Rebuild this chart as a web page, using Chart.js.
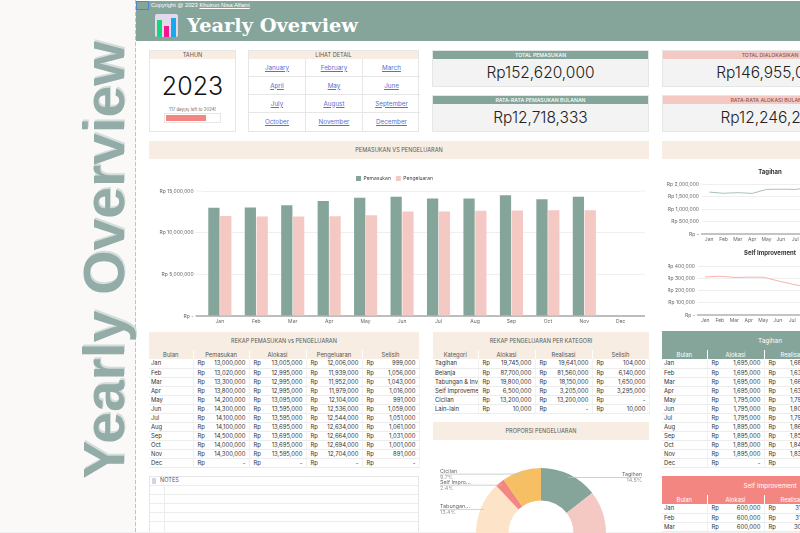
<!DOCTYPE html>
<html><head><meta charset="utf-8">
<script src="https://cdn.jsdelivr.net/npm/chart.js@4/dist/chart.umd.min.js"></script>
<style>
html,body{margin:0;padding:0;width:800px;height:533px;overflow:hidden;background:#fff;font-family:Inter,sans-serif;color:#333}
#page{position:absolute;left:0;top:0;width:800px;height:533px;overflow:hidden}
.a{position:absolute;box-sizing:border-box}
.c{display:flex;align-items:center;justify-content:center;white-space:nowrap;overflow:visible}
.box{border:1px solid #e6e6e6;background:#fff}
.band{background:#f7ede3;color:#555;font-size:5.6px;font-weight:400}
table{position:absolute;border-collapse:collapse;table-layout:fixed;font-size:5.9px;color:#333}
td,th{height:9px;padding:0;box-sizing:border-box;overflow:hidden;white-space:nowrap;font-weight:400;line-height:8px}
td{border-bottom:1px solid #ececec;border-right:1px solid #f1f1f1;text-align:right;padding-right:3px}
td.l{text-align:left;padding:0 0 0 2px}
td .rp{float:left;padding-left:4px}
th{text-align:center;font-size:5.8px}
canvas{position:absolute;display:block}
a{color:#5a6fd0;text-decoration:underline}
</style></head><body>
<div id="page"></div>
<script>
const months=['Jan','Feb','Mar','Apr','May','Jun','Jul','Aug','Sep','Oct','Nov','Dec'];
const monthLinks=['January','February','March','April','May','June','July','August','September','October','November','December'];
const pemasukan=[13000000,13020000,13300000,13800000,14200000,14300000,14100000,14100000,14500000,14000000,14300000,0];
const alokasi=[13005000,12995000,12995000,12995000,13095000,13595000,13595000,13695000,13695000,13695000,13595000,0];
const pengeluaran=[12006000,11939000,11952000,11979000,12104000,12536000,12544000,12634000,12664000,12694000,12704000,0];
const selisih=[999000,1056000,1043000,1016000,991000,1059000,1051000,1061000,1031000,1001000,891000,0];
const kategori=['Tagihan','Belanja','Tabungan & Investasi','Self Improvement','Cicilan','Lain-lain'];
const katAlokasi=[19745000,87700000,19800000,6500000,13200000,10000];
const katRealisasi=[19641000,81560000,18150000,3205000,13200000,0];
const katSelisih=[104000,6140000,1650000,3295000,0,10000];
const pieLabels=['Tagihan','Belanja','Tabungan...','Self Impro...','Cicilan','Lain-lain'];
const tagihanAlokasi=[1695000,1695000,1695000,1695000,1795000,1795000,1795000,1895000,1895000,1895000,1895000,0];
const tagihanRealisasi=[1684000,1635000,1660000,1630000,1790000,1800000,1790000,1860000,1850000,1840000,1830000,0];
const selfAlokasi=[600000,600000,600000];
const selfRealisasi=[312000,318000,308000,310000,310000,280000,253000,230000,230000,230000,230000,0];
const barTicks=[0,5000000,10000000,15000000];

const GREEN='#85a59b',PINK='#f5c9c3',RED='#f48682',SAND='#f7ede3',PEACH='#fde3c8',AMBER='#f6bf63';
const page=document.getElementById('page');
function el(cls,l,t,w,h,txt,css){const d=document.createElement('div');d.className='a '+cls;
 d.style.cssText=`left:${l}px;top:${t}px;width:${w}px;height:${h}px;`+(css||'');if(txt!==undefined)d.innerHTML=txt;page.appendChild(d);return d;}
const fmt=v=>v.toLocaleString('en-US');
const cell=v=>`<span class="rp">Rp</span>${v?fmt(v):'-'}`;

// left gutter
el('',0,0,135,533,undefined,'background:#fbf9f7');
el('',135,0,1,533,undefined,'background:repeating-linear-gradient(#f0b0a8 0 4px,#fbf3f1 4px 6px)');
el('c',-116,230,440,60,'Yearly Overview','transform:rotate(-90deg);font:700 57px "Liberation Sans",sans-serif;color:#93aca8;text-shadow:2px 1px 0 #d3ddda');

// banner
el('',136,1,664,40,undefined,`background:${GREEN}`);
el('',136,1,13,9,undefined,'border:1px solid #4a86c8');
el('',151,1,200,9,'Copyright @ 2023 <u>Khoirun Nisa Alfaini</u>','font:5.8px/9px "Liberation Sans",sans-serif;color:#fff;white-space:nowrap');
el('',155,14,23,23,undefined,'background:#e3d8ec;border-radius:2px');
el('',157,20,5,17,undefined,'background:#10d878');
el('',164,26,5,11,undefined,'background:#f0188c');
el('',171,18,5,19,undefined,'background:#18a8f0');
el('',187,12,200,27,'Yearly Overview','font:700 19.4px/27px "DejaVu Serif",serif;color:#fff;white-space:nowrap');

// year box
el('box',149,50,87,82);
el('c band',150,51,85,8,'TAHUN');
el('c',150,68,85,36,'2023','font-size:25px;font-weight:300;color:#111');
el('c',150,106,85,6,'117 day(s) left to 2024!','font-size:4.4px;color:#666');
el('',164,113,57,10,undefined,'border:1px solid #e6e6e6');
el('',166,115,40,6,undefined,`background:${RED}`);

// links
el('box',248,50,171,82);
el('c band',249,51,169,8,'LIHAT DETAIL');
monthLinks.forEach((m,i)=>{const c=i%3,r=Math.floor(i/3);
 el('c',249+c*57,59+r*18,57,18,`<a>${m}</a>`,`font-size:6.3px;border-bottom:${r<3?1:0}px solid #e6e6e6;border-right:${c<2?1:0}px solid #e6e6e6`);});

// KPI cards
function kpi(l,t,w,title,val,bg,fg){
 el('',l,t,w,37,undefined,'background:#f3f3f3;border:1px solid #e6e6e6');
 el('c',l+1,t+1,w-2,8,title,`background:${bg};color:${fg};font-size:5.2px;font-weight:500`);
 el('c',l+1,t+9,w-2,27,val,'font-size:15.5px;font-weight:300;color:#222');}
const sum=a=>a.reduce((x,y)=>x+y,0);
kpi(432,50,217,'TOTAL PEMASUKAN','Rp'+fmt(sum(pemasukan)),GREEN,'#fff');
kpi(432,95,217,'RATA-RATA PEMASUKAN BULANAN','Rp'+fmt(Math.round(sum(pemasukan)/12)),GREEN,'#fff');
kpi(662,50,216,'TOTAL DIALOKASIKAN','Rp'+fmt(sum(alokasi)),PINK,'#8a5a55');
kpi(662,95,216,'RATA-RATA ALOKASI BULANAN','Rp'+fmt(Math.round(sum(alokasi)/12)),PINK,'#8a5a55');

// section bands
el('c band',149,141,500,18,'PEMASUKAN VS PENGELUARAN');
el('',662,141,140,18,undefined,`background:${SAND}`);

// tables
function table(l,t,widths,head,rows,hbg,hfg){
 const tb=document.createElement('table');tb.style.cssText=`left:${l}px;top:${t}px;width:${widths.reduce((a,b)=>a+b)}px`;
 tb.innerHTML='<colgroup>'+widths.map(w=>`<col style="width:${w}px">`).join('')+'</colgroup>'+
 '<tr>'+head.map(h=>`<th style="background:${hbg};color:${hfg};border-right:1px solid #fff">${h}</th>`).join('')+'</tr>'+
 rows.map(r=>'<tr>'+r.map((c,i)=>i==0?`<td class="l">${c}</td>`:`<td>${cell(c)}</td>`).join('')+'</tr>').join('');
 page.appendChild(tb);}
el('c band',149,332,270,18,'REKAP PEMASUKAN vs PENGELUARAN');
table(149,350,[44,56,57,56,57],['Bulan','Pemasukan','Alokasi','Pengeluaran','Selisih'],
 months.map((m,i)=>[m,pemasukan[i],alokasi[i],pengeluaran[i],selisih[i]]),SAND,'#555');
el('c band',433,332,216,18,'REKAP PENGELUARAN PER KATEGORI');
table(433,350,[45,57,57,57],['Kategori','Alokasi','Realisasi','Selisih'],
 kategori.map((k,i)=>[k,katAlokasi[i],katRealisasi[i],katSelisih[i]]),SAND,'#555');
el('c band',433,422,216,18,'PROPORSI PENGELUARAN');
el('c',662,331,216,19,'Tagihan',`background:${GREEN};color:#fff;font-size:6.4px`);
table(662,350,[45,57,57],['Bulan','Alokasi','Realisasi'],months.map((m,i)=>[m,tagihanAlokasi[i],tagihanRealisasi[i]]),GREEN,'#fff');
el('c',662,476,216,19,'Self Improvement',`background:${RED};color:#fff;font-size:6.4px`);
table(662,495,[45,57,57],['Bulan','Alokasi','Realisasi'],months.slice(0,3).map((m,i)=>[m,selfAlokasi[i],selfRealisasi[i]]),RED,'#fff');

// notes
el('box',149,476,270,60);
el('',152,478,4,6,undefined,'background:#d9d2e4');
el('',160,476,100,9,'NOTES','font-size:5.6px;line-height:9px;color:#555');
for(let i=0;i<5;i++)el('',150,485+i*9,268,0,undefined,'border-top:1px solid #ececec');
el('',164,485,0,48,undefined,'border-left:1px solid #ececec');
el('',0,532,800,0,undefined,'border-top:1px solid #f1f1f1');

// charts
function canvas(l,t,w,h){const c=document.createElement('canvas');c.width=w;c.height=h;c.style.cssText=`left:${l}px;top:${t}px;width:${w}px;height:${h}px`;page.appendChild(c);return c;}
Chart.defaults.font.family='Inter, sans-serif';Chart.defaults.color='#666';
Chart.defaults.animation=false;
const rpTick=v=>v===0?'Rp -':'Rp '+fmt(v);

const gridStubs={id:'gridStubs',beforeDatasetsDraw(ch){const {ctx,chartArea:a,scales:{y}}=ch;ctx.save();
 y.ticks.forEach(t=>{const p=y.getPixelForValue(t.value);const z=t.value===0;ctx.strokeStyle=z?'#bdbdbd':'#efefef';ctx.lineWidth=z?2:1;
  ctx.beginPath();ctx.moveTo(a.left-6,p);ctx.lineTo(a.left,p);ctx.moveTo(a.right,p);ctx.lineTo(a.right+6,p);ctx.stroke();});ctx.restore();}};

new Chart(canvas(150,166,500,161),{type:'bar',data:{labels:months,datasets:[
 {label:'Pemasukan',data:pemasukan,backgroundColor:GREEN},
 {label:'Pengeluaran',data:pengeluaran,backgroundColor:PINK}]},
 plugins:[gridStubs],
 options:{responsive:false,barPercentage:.95,categoryPercentage:.65,
  layout:{padding:{top:5,right:11,bottom:0,left:0}},
  plugins:{legend:{position:'top',labels:{boxWidth:5,boxHeight:5,font:{size:5},padding:5,color:'#444'}},tooltip:{enabled:false}},
  scales:{
   x:{grid:{display:false,drawTicks:false},border:{color:'#bdbdbd',width:2},ticks:{font:{size:5},padding:2,maxRotation:0,autoSkip:false},afterFit(s){s.height=11}},
   y:{min:0,max:15000000,grid:{color:'#efefef',drawTicks:false},border:{display:false},afterBuildTicks(s){s.ticks=barTicks.map(v=>({value:v}))},
      ticks:{font:{size:5},padding:8,autoSkip:false,callback:rpTick},afterFit(s){s.width=51.6}}}}});

function lineChart(l,t,h,title,vals,color,ticks,yw,pad,tb){
 const mx=ticks[ticks.length-1];
 new Chart(canvas(l,t,220,h),{type:'line',data:{labels:months,datasets:[{data:vals,borderColor:color,borderWidth:1,pointRadius:0,tension:0}]},
 options:{responsive:false,layout:{padding:{left:pad,right:pad}},
  plugins:{legend:{display:false},tooltip:{enabled:false},title:{display:true,text:title,font:{size:6,weight:'700'},color:'#333',padding:{top:4,bottom:tb}}},
  scales:{
   x:{offset:true,grid:{display:false,drawTicks:false},border:{color:'#c4c4c4',width:2},ticks:{font:{size:5},padding:2,maxRotation:0,autoSkip:false},afterFit(s){s.height=10}},
   y:{min:0,max:mx,grid:{color:'#efefef',drawTicks:false},border:{display:false},afterBuildTicks(s){s.ticks=ticks.map(v=>({value:v}))},
      ticks:{font:{size:5},padding:3,autoSkip:false,callback:rpTick},afterFit(s){s.width=yw}}}}});}
lineChart(660,165,79,'Tagihan',tagihanRealisasi,'#a9c2b9',[0,500000,1000000,1500000,2000000],36,6,8);
lineChart(660,246,79,'Self Improvement',selfRealisasi,'#f7b1ac',[0,100000,200000,300000,400000],30,8,9);

const pieLeaders={id:'pieLeaders',afterDatasetsDraw(ch){const {ctx,width}=ch;const arcs=ch.getDatasetMeta(0).data;const total=sum(katRealisasi);
 ctx.save();ctx.font='5.4px Inter, sans-serif';
 arcs.forEach((a,i)=>{if(!katRealisasi[i]||i===1)return;const mid=(a.startAngle+a.endAngle)/2,r=a.outerRadius*.95;
  const px=a.x+Math.cos(mid)*r,py=a.y+Math.sin(mid)*r;const right=Math.cos(mid)>0;const ex=right?width-7:7;
  ctx.strokeStyle='#c2c2c2';ctx.lineWidth=.75;ctx.beginPath();ctx.moveTo(px,py);ctx.lineTo(ex,py);ctx.stroke();
  ctx.textAlign=right?'right':'left';ctx.fillStyle='#666';ctx.textBaseline='bottom';ctx.fillText(pieLabels[i],ex,py);
  ctx.fillStyle='#999';ctx.textBaseline='top';ctx.fillText((katRealisasi[i]/total*100).toFixed(1)+'%',ex,py+.5);});
 ctx.restore();}};
new Chart(canvas(433,440,216,186),{type:'doughnut',data:{labels:pieLabels,datasets:[{data:katRealisasi,backgroundColor:[GREEN,PINK,PEACH,RED,AMBER,'#ccc'],borderWidth:0}]},
 plugins:[pieLeaders],
 options:{responsive:false,cutout:'50%',layout:{padding:28},plugins:{legend:{display:false},tooltip:{enabled:false}}}});
</script></body></html>
